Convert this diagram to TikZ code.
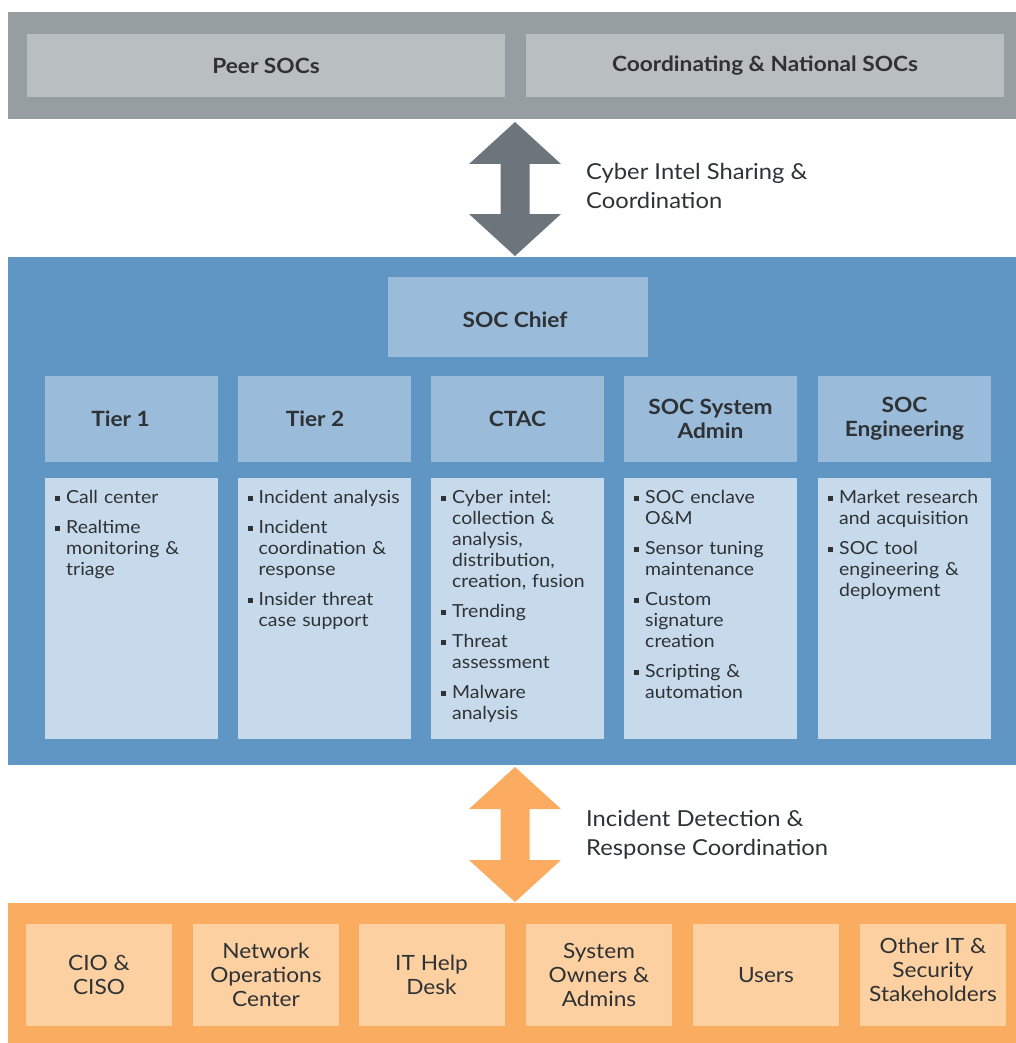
\documentclass[tikz,border=0pt]{standalone}
\usepackage{fontspec}
\setmainfont[FakeStretch=1.08]{Lato}
\usetikzlibrary{calc,positioning}

\definecolor{grayband}{HTML}{969EA2}
\definecolor{grayinner}{HTML}{B9BEC1}
\definecolor{grayarrow}{HTML}{6B757B}
\definecolor{blueband}{HTML}{6096C4}
\definecolor{bluehead}{HTML}{9ABBDA}
\definecolor{bluelight}{HTML}{C7DAEB}
\definecolor{orangeband}{HTML}{FAAC61}
\definecolor{orangeinner}{HTML}{FDD0A1}
\definecolor{orangearrow}{HTML}{FBAC60}
\definecolor{inkdark}{HTML}{2E3235}

% bullet items with hanging indent (first one opens no new paragraph)
\newcommand{\bulmark}{\hangindent=11pt\hangafter=1\makebox[11pt][l]{\rule[0.13em]{0.28em}{0.28em}}}
\newcommand{\bulA}{\noindent\bulmark}
\newcommand{\bul}{\par\noindent\bulmark}
\newcommand{\nl}{\hfil\break}

% fat double arrow between two named points
\newcommand{\fatarrow}[3]{%
  \fill[#3] let \p1=(#1), \p2=(#2) in
    (\x1,\y1) -- (\x1+46pt,\y1-42pt) -- (\x1+14.5pt,\y1-42pt)
    -- (\x1+14.5pt,\y2+42pt) -- (\x1+46pt,\y2+42pt) -- (\x1,\y2)
    -- (\x1-46pt,\y2+42pt) -- (\x1-14.5pt,\y2+42pt)
    -- (\x1-14.5pt,\y1-42pt) -- (\x1-46pt,\y1-42pt) -- cycle;}

\tikzset{
  box/.style={rectangle, inner sep=0pt, outer sep=0pt, text=inkdark},
  band/.style={box, minimum width=1008pt},
  headfont/.style={font=\fontsize{21}{24}\selectfont\bfseries},
  headbox/.style={box, headfont, fill=bluehead, minimum width=173pt, minimum height=86pt,
    align=center},
  listbox/.style={box, fill=bluelight, minimum width=173pt, minimum height=261pt},
  listtext/.style={anchor=north west, inner sep=0pt, text=inkdark, text width=165pt,
    align=left, font=\fontsize{18}{21}\selectfont\setlength{\parskip}{9pt}},
  userfont/.style={align=center, font=\fontsize{21}{24}\selectfont},
  userbox/.style={box, userfont, fill=orangeinner, minimum width=146pt, minimum height=102pt},
  flowlabel/.style={anchor=west, inner sep=0pt, text=inkdark, align=left,
    font=\fontsize{22}{29}\selectfont}
}

\begin{document}
\begin{tikzpicture}[x=1pt,y=-1pt]
\useasboundingbox[fill=white] (0,0) rectangle (1016,1043);

% external SOCs
\node[band, fill=grayband, minimum height=107pt] (peers) at (512,65.5) {};
\node[box, headfont, fill=grayinner, minimum width=478pt, minimum height=63pt] (peer) at (266,65.5) {Peer SOCs};
\node[box, headfont, fill=grayinner, minimum width=478pt, minimum height=63pt] (natl) at (765,65.5) {Coordinating \& National SOCs};

% the SOC itself
\node[band, fill=blueband, minimum height=508pt] (soc) at (512,511) {};
\node[box, fill=bluehead, minimum width=260pt, minimum height=80pt] (chief) at (518,317) {};
\node[box, headfont] (chieftext) at ($(chief)+(-3,3)$) {SOC Chief};

\node[headbox] (tier1) at (131.5,419) {Tier 1\hspace*{22pt}};
\node[headbox] (tier2) at (324,419) {Tier 2\hspace*{18pt}};
\node[headbox] (ctac)  at (517.5,419) {CTAC};
\node[headbox] (sysad) at (710.5,419) {SOC System\\Admin};
\node[headbox] (eng)   at (904.5,419) {SOC\\Engineering};

\node[listbox] (l1) at (131.5,608.5) {};
\node[listbox] (l2) at (324,608.5) {};
\node[listbox] (l3) at (517.5,608.5) {};
\node[listbox] (l4) at (710.5,608.5) {};
\node[listbox] (l5) at (904.5,608.5) {};

\node[listtext] at ($(l1.north west)+(10,12)$) {%
  \bulA Call center
  \bul Realtime\nl monitoring \&\nl triage\par};
\node[listtext] at ($(l2.north west)+(10,12)$) {%
  \bulA Incident analysis
  \bul Incident\nl coordination \&\nl response
  \bul Insider threat\nl case support\par};
\node[listtext] at ($(l3.north west)+(10,12)$) {%
  \bulA Cyber intel:\nl collection \&\nl analysis,\nl distribution,\nl creation, fusion
  \bul Trending
  \bul Threat\nl assessment
  \bul Malware\nl analysis\par};
\node[listtext] at ($(l4.north west)+(10,12)$) {%
  \bulA SOC enclave\nl O\&M
  \bul Sensor tuning\nl maintenance
  \bul Custom\nl signature\nl creation
  \bul Scripting \&\nl automation\par};
\node[listtext] at ($(l5.north west)+(10,12)$) {%
  \bulA Market research\nl and acquisition
  \bul SOC tool\nl engineering \&\nl deployment\par};

% constituency
\node[band, fill=orangeband, minimum height=140pt] (const) at (512,973) {};
\node[userbox] (cio)   at (99,975)    {CIO \&\\CISO};
\node[userbox] (noc)   at (266,975)   {Network\\Operations\\Center};
\node[userbox] (help)  at (431.5,975) {IT Help\\Desk};
\node[userbox] (owner) at (599,975)   {System\\Owners \&\\Admins};
\node[userbox] (users) at (766,975)   {Users};
\node[userbox] (other) at (933,975)   {};
\node[box, userfont] (othertext) at ($(other)+(0,-5)$) {Other IT \&\\Security\\Stakeholders};

% arrows between the bands
\coordinate (intelA) at (515,122);
\coordinate (intelB) at (515,256);
\fatarrow{intelA}{intelB}{grayarrow}
\node[flowlabel] (intel) at (586,185.5) {Cyber Intel Sharing \&\\Coordination};

\coordinate (incA) at (515,767);
\coordinate (incB) at (515,902);
\fatarrow{incA}{incB}{orangearrow}
\node[flowlabel] (inc) at (586,834.5) {Incident Detection \&\\Response Coordination};
\end{tikzpicture}
\end{document}
